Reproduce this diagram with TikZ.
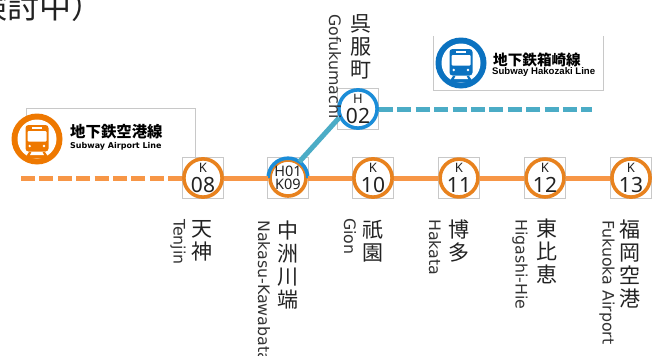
\documentclass[tikz,border=0pt]{standalone}
\usepackage{fontspec}
\setmainfont{Noto Sans}
\newfontfamily\cjk{Noto Sans CJK JP}
\newfontfamily\dejav{DejaVu Sans}
\newfontfamily\libsans{Liberation Sans}
\definecolor{ringor}{HTML}{E8821E}
\definecolor{lineor}{HTML}{F79646}
\definecolor{iconor}{HTML}{EE7800}
\definecolor{ringbl}{HTML}{1B8DD8}
\definecolor{iconbl}{HTML}{0B72C0}
\definecolor{linetl}{HTML}{4BACC6}
\definecolor{boxgr}{HTML}{C8C8C8}
\definecolor{inkk}{HTML}{222222}
\definecolor{inkl}{HTML}{333333}
\tikzset{
  stbox/.style={draw=boxgr,line width=0.7pt,minimum size=41pt,inner sep=0pt,rectangle},
  stn/.style={circle,draw=#1,line width=3.6pt,fill=white,minimum size=36pt,inner sep=0pt,align=center,text=inkk},
  stn/.default=ringor,
  janame/.style={anchor=north,align=center,inner sep=0pt,text=inkk,font=\cjk\fontsize{21}{23}\selectfont},
  enname/.style={anchor=west,rotate=-90,inner sep=0pt,text=inkl,font=\dejav\fontsize{15.8}{16}\selectfont},
  orline/.style={draw=lineor,line width=5pt},
  tlline/.style={draw=linetl,line width=5pt},
  dashline/.style={dash pattern=on 14pt off 4.4pt},
  legja/.style={anchor=west,inner sep=0pt,text=black,font=\cjk\bfseries\fontsize{15.4}{16}\selectfont},
  legen/.style={anchor=west,inner sep=0pt,text=black,font=\dejav\bfseries\fontsize{8}{10}\selectfont},
  legbox/.style={draw=boxgr,line width=0.8pt},
  trainicon/.pic={
    \fill[#1] (0,0) circle (25.5);
    \fill[white] (0,0) circle (19.5);
    \fill[#1,rounded corners=3pt] (-11.5,-14) rectangle (11.5,12.5);
    \fill[white,rounded corners=1pt] (-9.3,-8) rectangle (9.5,2.5);
    \fill[white] (-4.8,-12.2) rectangle (4.8,-10.2);
    \fill[white] (-7.3,7) circle (1.3) (7,7) circle (1.3);
    \fill[#1] (-8,13) -- (8,13) -- (12,19) -- (-12,19) -- cycle;
    \fill[white] (-5.5,13) -- (5.5,13) -- (7,16) -- (-7,16) -- cycle;
  }
}
\newcommand{\stlabel}[2]{{\fontsize{13}{13}\selectfont #1}\\[4pt]{\fontsize{21}{20}\selectfont #2}}
\begin{document}
\begin{tikzpicture}[x=1pt,y=-1pt]
\useasboundingbox (0,0) rectangle (656,356);
\clip (0,0) rectangle (656,356);
\fill[white] (0,0) rectangle (656,356);
% title fragment
\node[anchor=east,inner sep=0pt,text=inkk,font=\cjk\fontsize{32}{33}\selectfont] (title) at (104,6) {（検討中）};
% legends
\draw[legbox] (26,116) -- (26,108) -- (195,108) -- (195,160);
\draw[legbox] (433,36) -- (433,90) -- (603,90) -- (603,36);
\pic at (37,139) {trainicon=iconor};
\pic at (461,63) {trainicon=iconbl};
\node[legja] (airja) at (70,132) {地下鉄空港線};
\node[legen] (airen) at (70,146.5) {Subway Airport Line};
\node[legja,font=\cjk\bfseries\fontsize{14.6}{16}\selectfont] (hakja) at (493,59.5) {地下鉄箱崎線};
\node[legen,font=\libsans\bfseries\fontsize{9.6}{10}\selectfont] (haken) at (492,72.5) {Subway Hakozaki Line};
% station boxes
\node[stbox] (b08) at (203,178) {};
\node[stbox] (b09) at (288,178) {};
\node[stbox] (b10) at (373,178) {};
\node[stbox] (b11) at (459,178) {};
\node[stbox] (b12) at (545,178) {};
\node[stbox] (b13) at (631,178) {};
\node[stbox] (b02) at (358,109) {};
% stations
\node[stn] (k08) at (b08) {\stlabel{K}{08}};
\node[stn] (k09) at (b09) {{\fontsize{14.5}{14}\selectfont H01}\\[0.5pt]{\fontsize{14.5}{14}\selectfont K09}};
\node[stn] (k10) at (b10) {\stlabel{K}{10}};
\node[stn] (k11) at (b11) {\stlabel{K}{11}};
\node[stn] (k12) at (b12) {\stlabel{K}{12}};
\node[stn] (k13) at (b13) {\stlabel{K}{13}};
\node[stn=ringbl] (h02) at (b02) {\stlabel{H}{02}};
\draw[ringbl,line width=3.6pt] (k09.west) arc[start angle=180,end angle=0,radius=19.8pt];
% line ends
\coordinate (airend) at (21,178);
\coordinate (hakend) at (592,109);
% connectors
\draw[orline,dashline] (airend) -- (k08);
\draw[orline] (k08) -- (k09);
\draw[orline] (k09) -- (k10);
\draw[orline] (k10) -- (k11);
\draw[orline] (k11) -- (k12);
\draw[orline] (k12) -- (k13);
\draw[tlline] (k09.55) -- (h02.205);
\draw[tlline,dashline] (h02) -- (hakend);
% station names
\node[janame] (n08) at (202,220.5) {天\\神};
\node[enname] (e08) at (178,219) {Tenjin};
\node[janame] (n09) at (288,220.5) {中\\洲\\川\\端};
\node[enname] (e09) at (264,220) {Nakasu-Kawabata};
\node[janame] (n10) at (373,220.5) {祇\\園};
\node[enname] (e10) at (350,218) {Gion};
\node[janame] (n11) at (459,220) {博\\多};
\node[enname] (e11) at (435,219) {Hakata};
\node[janame] (n12) at (547,219) {東\\比\\恵};
\node[enname] (e12) at (520,219) {Higashi-Hie};
\node[janame] (n13) at (630,219.5) {福\\岡\\空\\港};
\node[enname] (e13) at (607,220) {Fukuoka Airport};
\node[janame] (n02) at (361,14) {呉\\服\\町};
\node[enname] (e02) at (335,14) {Gofukumachi};
\end{tikzpicture}
\end{document}
